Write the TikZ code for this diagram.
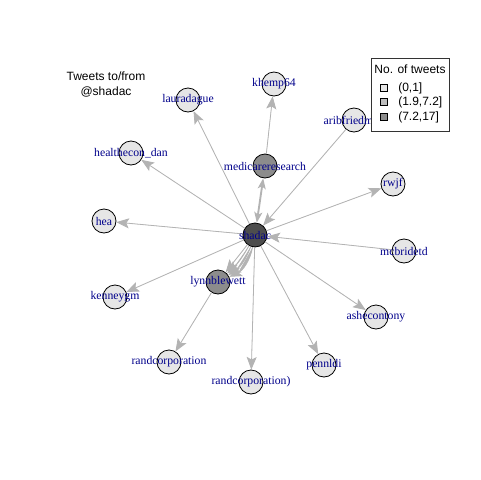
\documentclass[tikz,border=0pt]{standalone}
\usepackage{fontspec}
\setmainfont{Liberation Serif}
\newfontfamily\sansf{Liberation Sans}
\usetikzlibrary{arrows.meta}
\definecolor{labblue}{HTML}{00008B}
\definecolor{edgegray}{HTML}{B3B3B3}
\definecolor{vlight}{HTML}{E6E6E6}
\definecolor{vmid}{HTML}{BEBEBE}
\definecolor{vdark}{HTML}{8C8C8C}
\definecolor{vcenter}{HTML}{4D4D4D}
\begin{document}
\begin{tikzpicture}[x=0.75pt,y=-0.75pt,
  vtx/.style={circle,draw=black,line width=0.6pt,minimum size=18pt,inner sep=0pt,fill=vlight},
  lbl/.style={text=labblue,font=\fontsize{8.8}{10}\selectfont,inner sep=0pt},
  sanstext/.style={font=\sansf\fontsize{9}{10}\selectfont,inner sep=0pt,text=black},
  edge/.style={draw=edgegray,fill=edgegray,line width=0.6pt,-{Stealth[length=9.5pt,width=7.5pt,inset=2pt]}},
  thickedge/.style={draw=edgegray,fill=edgegray,line width=1.4pt,{Stealth[length=8pt,width=6pt,inset=2pt]}-{Stealth[length=8pt,width=6pt,inset=2pt]}},
  legsq/.style={draw=black,line width=0.5pt,minimum size=5.5pt,inner sep=0pt}
]
\useasboundingbox[fill=white] (0,0) rectangle (480,480);

% vertices
\node[vtx,fill=vcenter] (sh) at (255,235) {};
\node[vtx,fill=vdark] (med) at (265,166) {};
\node[vtx] (khe) at (274,84) {};
\node[vtx] (lau) at (188,100) {};
\node[vtx] (arib) at (354,120) {};
\node[vtx] (rwjf) at (393,184) {};
\node[vtx] (mcb) at (404,251) {};
\node[vtx] (ashe) at (376,317) {};
\node[vtx] (penn) at (324,365) {};
\node[vtx] (rc2) at (251,382) {};
\node[vtx] (rc) at (169,362) {};
\node[vtx,fill=vdark] (lyn) at (218,282) {};
\node[vtx] (ken) at (115,297) {};
\node[vtx] (hea) at (104,221) {};
\node[vtx] (hd) at (131,153) {};

% edges
\draw[edge] (sh) -- (hd);
\draw[edge] (sh) -- (hea);
\draw[edge] (sh) -- (lau);
\draw[thickedge] (sh) -- (med);
\draw[edge] (med) -- (khe);
\draw[edge] (arib) -- (sh);
\draw[edge] (sh) -- (rwjf);
\draw[edge] (mcb) -- (sh);
\draw[edge] (sh) -- (ashe);
\draw[edge] (sh) -- (penn);
\draw[edge] (sh) -- (rc2);
\draw[edge] (lyn) -- (rc);
\draw[edge] (sh) -- (ken);
\draw[edge] (sh) -- (lyn);
\draw[edge] (sh) to[bend left=9] (lyn);
\draw[edge] (sh) to[bend left=18] (lyn);
\draw[edge] (sh) to[bend left=27] (lyn);

% labels
\node[lbl] at (sh) {shadac};
\node[lbl] at (med) {medicareresearch};
\node[lbl] at (khe) {khemp64};
\node[lbl] at (lau) {lauradague};
\node[lbl] at (arib) {aribfriedman};
\node[lbl] at (rwjf) {rwjf};
\node[lbl] at (mcb) {mcbridetd};
\node[lbl] at (ashe) {ashecontony};
\node[lbl] at (penn) {pennldi};
\node[lbl] at (rc2) {randcorporation)};
\node[lbl] at (rc) {randcorporation};
\node[lbl] at (lyn) {lynnblewett};
\node[lbl] at (ken) {kenneygm};
\node[lbl] at (hea) {hea};
\node[lbl] at (hd) {healthecon\_dan};

% title
\node[sanstext] (t1) at (106,76) {Tweets to/from};
\node[sanstext] (t2) at (106,92) {@shadac};

% legend
\draw[draw=black!80,fill=white,line width=0.6pt] (371,58) rectangle (449,131);
\node[sanstext] (lt) at (410,69) {No. of tweets};
\node[legsq,fill=vlight] (s1) at (384,88) {};
\node[legsq,fill=vmid] (s2) at (384,102) {};
\node[legsq,fill=vdark] (s3) at (384,117) {};
\node[sanstext,anchor=west] (l1) at (398,88) {(0,1]};
\node[sanstext,anchor=west] (l2) at (398,102) {(1.9,7.2]};
\node[sanstext,anchor=west] (l3) at (398,117) {(7.2,17]};
\end{tikzpicture}
\end{document}
